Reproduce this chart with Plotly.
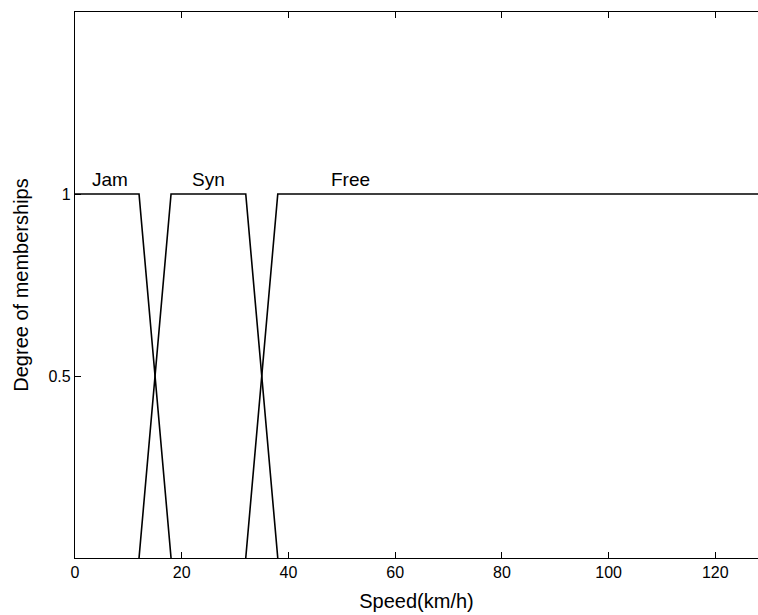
import plotly.graph_objects as go

# Membership function breakpoints (speed km/h) and degrees
jam_x = [0, 12, 18]
jam_y = [1, 1, 0]
syn_x = [12, 18, 32, 38]
syn_y = [0, 1, 1, 0]
free_x = [32, 38, 128]
free_y = [0, 1, 1]

labels = ["Jam", "Syn", "Free"]
label_x = [6.6, 25, 51.7]
label_y = [1.04, 1.04, 1.04]

x_ticks = [0, 20, 40, 60, 80, 100, 120]
y_ticks = [0.5, 1]
y_tick_text = ["0.5", "1"]

FONT = "Liberation Sans, Arial, sans-serif"

fig = go.Figure()
for xs, ys in [(jam_x, jam_y), (syn_x, syn_y), (free_x, free_y)]:
    fig.add_trace(go.Scatter(x=xs, y=ys, mode="lines",
                             line=dict(color="black", width=1.6),
                             showlegend=False, hoverinfo="skip"))

for t, xv, yv in zip(labels, label_x, label_y):
    fig.add_annotation(x=xv, y=yv, text=t, showarrow=False,
                       font=dict(family=FONT, size=19, color="black"),
                       xanchor="center", yanchor="middle")

fig.update_layout(
    width=758, height=615,
    margin=dict(l=75, r=0, t=12, b=57),
    paper_bgcolor="white", plot_bgcolor="white",
    font=dict(family=FONT, color="black"),
)
fig.update_xaxes(range=[0, 128], tickvals=x_ticks, ticks="inside", ticklen=6,
                 tickwidth=1.3, tickcolor="black", showline=True, linecolor="black",
                 linewidth=1.3, mirror="ticks", showgrid=False, zeroline=False,
                 tickfont=dict(size=16, family=FONT),
                 title=dict(text="Speed(km/h)", font=dict(size=20, family=FONT), standoff=13))
fig.update_yaxes(range=[0, 1.5], tickvals=y_ticks, ticktext=y_tick_text, ticks="inside",
                 ticklen=6, tickwidth=1.3, tickcolor="black", showline=True,
                 linecolor="black", linewidth=1.3, mirror=False, showgrid=False,
                 zeroline=False, tickfont=dict(size=16, family=FONT),
                 title=dict(text="Degree of memberships", font=dict(size=20, family=FONT), standoff=14))

fig.write_html("out.html")
